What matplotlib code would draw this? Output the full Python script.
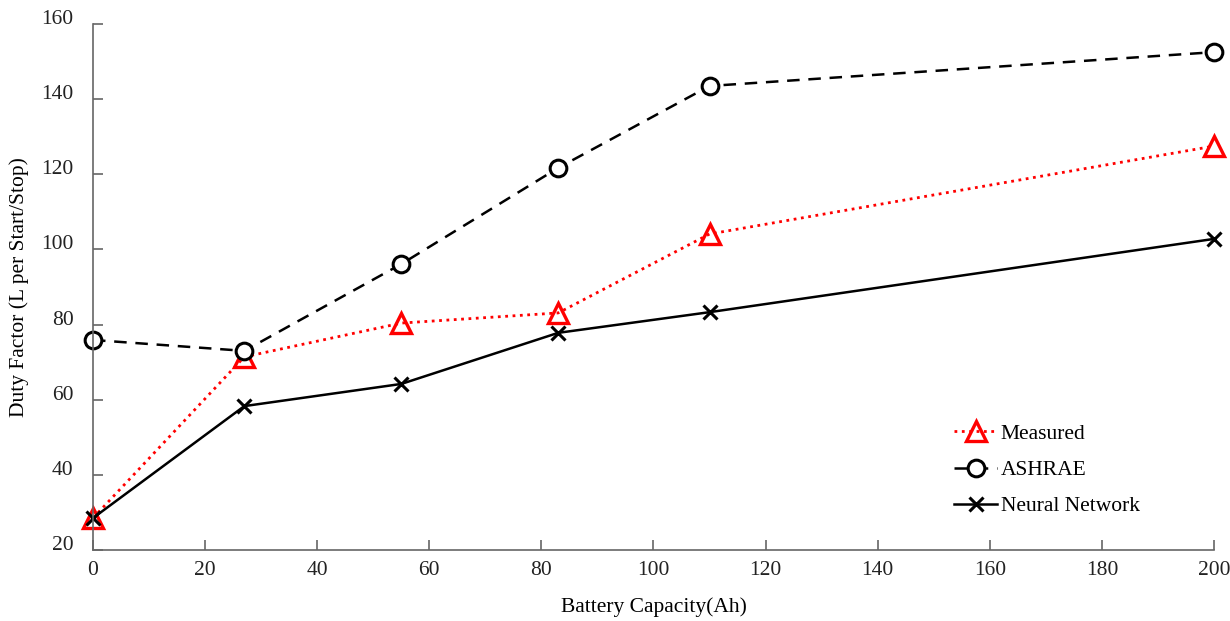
import numpy as np
import matplotlib
matplotlib.use("Agg")
import matplotlib.pyplot as plt

plt.rcParams['font.family'] = ['Liberation Serif', 'DejaVu Serif']

capacity = [0, 27, 55, 83, 110, 200]
measured = [28.5, 71.4, 80.4, 83.1, 104.1, 127.5]
ashrae = [75.9, 73.0, 96.1, 121.7, 143.5, 152.5]
neural = [28.5, 58.3, 64.2, 77.8, 83.3, 102.8]

fig = plt.figure(figsize=(12.3, 6.21), dpi=100)
ax = fig.add_axes([0.0756, 0.1143, 0.9114, 0.8471])

ax.plot(capacity, measured, color='red', linestyle=':', lw=2,
        marker='^', ms=14, mfc='none', mew=2.4, label='Measured', clip_on=False)
ax.plot(capacity, ashrae, color='black', linestyle=(0, (5, 3.5)), lw=1.8,
        marker='o', ms=12, mfc='white', mew=2.2, label='ASHRAE', clip_on=False)
ax.plot(capacity, neural, color='black', linestyle='-', lw=1.8,
        marker='x', ms=10, mew=2.2, label='Neural Network', clip_on=False)

ax.set_xlim(0, 200)
ax.set_ylim(20, 160)
ax.set_xticks(np.arange(0, 201, 20))
ax.set_yticks(np.arange(20, 161, 20))

for s in ['top', 'right']:
    ax.spines[s].set_visible(False)
for s in ['left', 'bottom']:
    ax.spines[s].set_color('#666666')
    ax.spines[s].set_linewidth(1.2)

ax.tick_params(direction='in', length=7, width=1.2, color='#666666',
               labelsize=15.5, labelcolor='#222222')
ax.tick_params(axis='y', pad=14)
ax.tick_params(axis='x', pad=8)
for lbl in ax.get_yticklabels():
    lbl.set_verticalalignment('baseline')

ax.set_xlabel('Battery Capacity(Ah)', fontsize=15.5, va='center')
ax.xaxis.set_label_coords(0.5, -0.108)
ax.set_ylabel('Duty Factor (L per Start/Stop)', fontsize=15.5, va='center')
ax.yaxis.set_label_coords(-0.066, 0.5)

ax.legend(loc='lower right', bbox_to_anchor=(0.951, 0.027), frameon=False,
          fontsize=15.5, handlelength=2.0, handletextpad=0.15, labelspacing=0.75)

fig.savefig('out.png', dpi=100)
